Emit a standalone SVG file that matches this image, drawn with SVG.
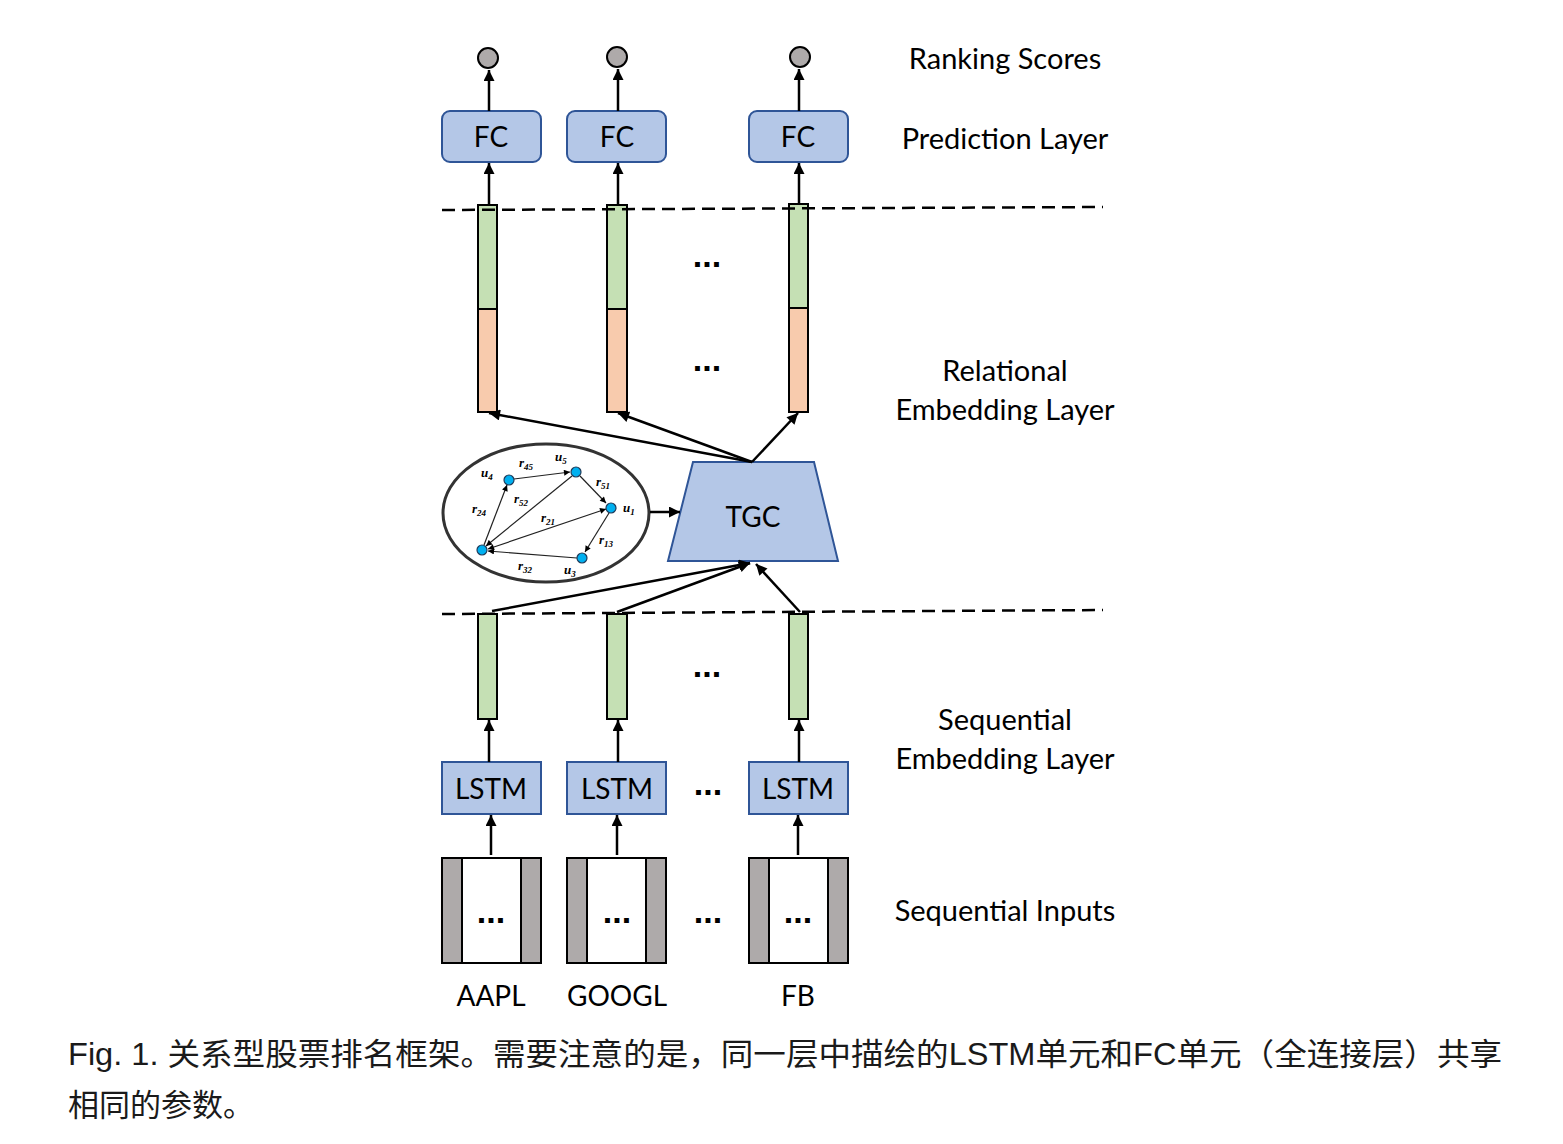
<svg xmlns="http://www.w3.org/2000/svg" width="1563" height="1144" viewBox="0 0 1563 1144">
<defs>
<style>
.lbl{font-family:Lato,"Liberation Sans",sans-serif;font-size:28px;fill:#000;text-anchor:middle}
.rl{font-size:29px}
.box{fill:#b4c7e7;stroke:#2f5597;stroke-width:2}
.g{fill:#c5e0b4;stroke:#000;stroke-width:2}
.o{fill:#f8cbad;stroke:#000;stroke-width:2}
.gray{fill:#aeaaaa;stroke:#000;stroke-width:2}
.conn{stroke:#000;stroke-width:2.5;fill:none;marker-end:url(#ah)}
.dash{stroke:#000;stroke-width:2.5;stroke-dasharray:13 7;fill:none}
.dots{font-family:"Liberation Sans",sans-serif;font-size:34px;font-weight:bold;fill:#000;text-anchor:middle}
.ge{stroke:#222;stroke-width:1.2;fill:none}
.gn{fill:#00b0f0;stroke:#1f3b5a;stroke-width:1.2}
.gl{font-family:"Liberation Serif",serif;font-style:italic;font-weight:bold;font-size:13px;fill:#000}
.sub{font-size:9px}
.cap{font-family:"Liberation Sans","Noto Sans CJK SC",sans-serif;font-size:31px;fill:#1a1a1a}
</style>
<marker id="ah" viewBox="0 0 10 10" refX="10" refY="5" markerWidth="12" markerHeight="11" orient="auto" markerUnits="userSpaceOnUse"><path d="M0,0 L10,5 L0,10 z" fill="#000"/></marker>
<marker id="sh" viewBox="0 0 10 10" refX="10" refY="5" markerWidth="7" markerHeight="6" orient="auto-start-reverse" markerUnits="userSpaceOnUse"><path d="M0,0 L10,5 L0,10 z" fill="#000"/></marker>
<clipPath id="ec"><ellipse cx="546" cy="513" rx="103" ry="69"/></clipPath>
</defs>

<g id="scores">
<circle class="gray" cx="488" cy="58" r="10"/>
<circle class="gray" cx="617" cy="57" r="10"/>
<circle class="gray" cx="800" cy="57" r="10"/>
</g>

<g id="fc1"><rect class="box" x="442" y="111" width="99" height="51" rx="8"/><text class="lbl" x="491" y="147">FC</text></g>
<g id="fc2"><rect class="box" x="567" y="111" width="99" height="51" rx="8"/><text class="lbl" x="617" y="147">FC</text></g>
<g id="fc3"><rect class="box" x="749" y="111" width="99" height="51" rx="8"/><text class="lbl" x="798" y="147">FC</text></g>

<g id="relbar1"><rect class="g" x="478" y="205" width="19" height="104"/><rect class="o" x="478" y="309" width="19" height="103"/></g>
<g id="relbar2"><rect class="g" x="607" y="205" width="20" height="104"/><rect class="o" x="607" y="309" width="20" height="103"/></g>
<g id="relbar3"><rect class="g" x="789" y="204" width="19" height="104"/><rect class="o" x="789" y="308" width="19" height="104"/></g>
<text class="dots" x="707" y="267">...</text>
<text class="dots" x="707" y="371">...</text>

<g id="graph">
<ellipse cx="546" cy="513" rx="103" ry="69" fill="#fff" stroke="#333" stroke-width="3"/>
<g clip-path="url(#ec)">
<line class="ge" x1="514" y1="479" x2="570" y2="472" marker-end="url(#sh)"/>
<line class="ge" x1="580" y1="476" x2="606" y2="503" marker-end="url(#sh)"/>
<line class="ge" x1="609" y1="513" x2="585" y2="552" marker-end="url(#sh)"/>
<line class="ge" x1="577" y1="558" x2="488" y2="551" marker-end="url(#sh)"/>
<line class="ge" x1="484" y1="545" x2="507" y2="485" marker-end="url(#sh)"/>
<line class="ge" x1="572" y1="476" x2="486" y2="546" marker-end="url(#sh)"/>
<line class="ge" x1="488" y1="549" x2="606" y2="509" marker-start="url(#sh)" marker-end="url(#sh)"/>
<circle class="gn" cx="509" cy="480" r="5"/>
<circle class="gn" cx="576" cy="472" r="5"/>
<circle class="gn" cx="611" cy="508" r="5"/>
<circle class="gn" cx="582" cy="558" r="5"/>
<circle class="gn" cx="482" cy="550" r="5"/>
<text class="gl" x="519" y="467">r<tspan class="sub" dy="3">45</tspan></text>
<text class="gl" x="555" y="461">u<tspan class="sub" dy="3">5</tspan></text>
<text class="gl" x="481" y="477">u<tspan class="sub" dy="3">4</tspan></text>
<text class="gl" x="596" y="486">r<tspan class="sub" dy="3">51</tspan></text>
<text class="gl" x="623" y="512">u<tspan class="sub" dy="3">1</tspan></text>
<text class="gl" x="514" y="503">r<tspan class="sub" dy="3">52</tspan></text>
<text class="gl" x="541" y="522">r<tspan class="sub" dy="3">21</tspan></text>
<text class="gl" x="472" y="513">r<tspan class="sub" dy="3">24</tspan></text>
<text class="gl" x="599" y="544">r<tspan class="sub" dy="3">13</tspan></text>
<text class="gl" x="518" y="570">r<tspan class="sub" dy="3">32</tspan></text>
<text class="gl" x="564" y="574">u<tspan class="sub" dy="3">3</tspan></text>
<text class="gl" x="451" y="556">u<tspan class="sub" dy="3">2</tspan></text>
</g>
</g>

<g id="tgc"><polygon class="box" points="693,462 814,462 838,561 668,561"/><text class="lbl" x="753" y="527">TGC</text></g>

<g id="seqbar1"><rect class="g" x="478" y="614" width="19" height="105"/></g>
<g id="seqbar2"><rect class="g" x="607" y="614" width="20" height="105"/></g>
<g id="seqbar3"><rect class="g" x="789" y="614" width="19" height="105"/></g>
<text class="dots" x="707" y="677">...</text>

<g id="lstm1"><rect class="box" x="442" y="762" width="99" height="52"/><text class="lbl" x="491" y="799">LSTM</text></g>
<g id="lstm2"><rect class="box" x="567" y="762" width="99" height="52"/><text class="lbl" x="617" y="799">LSTM</text></g>
<g id="lstm3"><rect class="box" x="749" y="762" width="99" height="52"/><text class="lbl" x="798" y="799">LSTM</text></g>
<text class="dots" x="708" y="795">...</text>

<g id="in1"><rect x="442" y="858" width="99" height="105" fill="#fff" stroke="#000" stroke-width="2"/><rect class="gray" x="442" y="858" width="20" height="105"/><rect class="gray" x="521" y="858" width="20" height="105"/><text class="dots" x="491" y="923">...</text></g>
<g id="in2"><rect x="567" y="858" width="99" height="105" fill="#fff" stroke="#000" stroke-width="2"/><rect class="gray" x="567" y="858" width="20" height="105"/><rect class="gray" x="646" y="858" width="20" height="105"/><text class="dots" x="617" y="923">...</text></g>
<g id="in3"><rect x="749" y="858" width="99" height="105" fill="#fff" stroke="#000" stroke-width="2"/><rect class="gray" x="749" y="858" width="20" height="105"/><rect class="gray" x="828" y="858" width="20" height="105"/><text class="dots" x="798" y="923">...</text></g>
<text class="dots" x="708" y="923">...</text>

<g id="connectors">
<line class="conn" x1="489" y1="111" x2="489" y2="70"/>
<line class="conn" x1="618" y1="111" x2="618" y2="69"/>
<line class="conn" x1="799" y1="111" x2="799" y2="69"/>
<line class="conn" x1="489" y1="205" x2="489" y2="163"/>
<line class="conn" x1="618" y1="205" x2="618" y2="163"/>
<line class="conn" x1="799" y1="204" x2="799" y2="163"/>
<line class="conn" x1="752" y1="462" x2="489" y2="413"/>
<line class="conn" x1="752" y1="462" x2="618" y2="413"/>
<line class="conn" x1="752" y1="462" x2="798" y2="413"/>
<line class="conn" x1="650" y1="512" x2="680" y2="512"/>
<line class="conn" x1="492" y1="611" x2="750" y2="563"/>
<line class="conn" x1="617" y1="612" x2="750" y2="563"/>
<line class="conn" x1="800" y1="612" x2="756" y2="564"/>
<line class="conn" x1="489" y1="762" x2="489" y2="720"/>
<line class="conn" x1="618" y1="762" x2="618" y2="720"/>
<line class="conn" x1="799" y1="762" x2="799" y2="720"/>
<line class="conn" x1="491" y1="855" x2="491" y2="815"/>
<line class="conn" x1="617" y1="855" x2="617" y2="815"/>
<line class="conn" x1="798" y1="855" x2="798" y2="815"/>
<line class="dash" x1="442" y1="210" x2="1103" y2="207"/>
<line class="dash" x1="442" y1="614" x2="1103" y2="610"/>
</g>

<g id="labels">
<text class="lbl" x="491" y="1006">AAPL</text>
<text class="lbl" x="617" y="1006">GOOGL</text>
<text class="lbl" x="798" y="1006">FB</text>
<text class="lbl rl" x="1005" y="69">Ranking Scores</text>
<text class="lbl rl" x="1005" y="149">Prediction Layer</text>
<text class="lbl rl" x="1005" y="381">Relational</text>
<text class="lbl rl" x="1005" y="420">Embedding Layer</text>
<text class="lbl rl" x="1005" y="730">Sequential</text>
<text class="lbl rl" x="1005" y="769">Embedding Layer</text>
<text class="lbl rl" x="1005" y="921">Sequential Inputs</text>
</g>

<g id="caption">
<text class="cap" x="68" y="1065" textLength="1434" lengthAdjust="spacingAndGlyphs">Fig. 1. 关系型股票排名框架。需要注意的是，同一层中描绘的LSTM单元和FC单元（全连接层）共享</text>
<text class="cap" x="68" y="1116">相同的参数。</text>
</g>
</svg>
